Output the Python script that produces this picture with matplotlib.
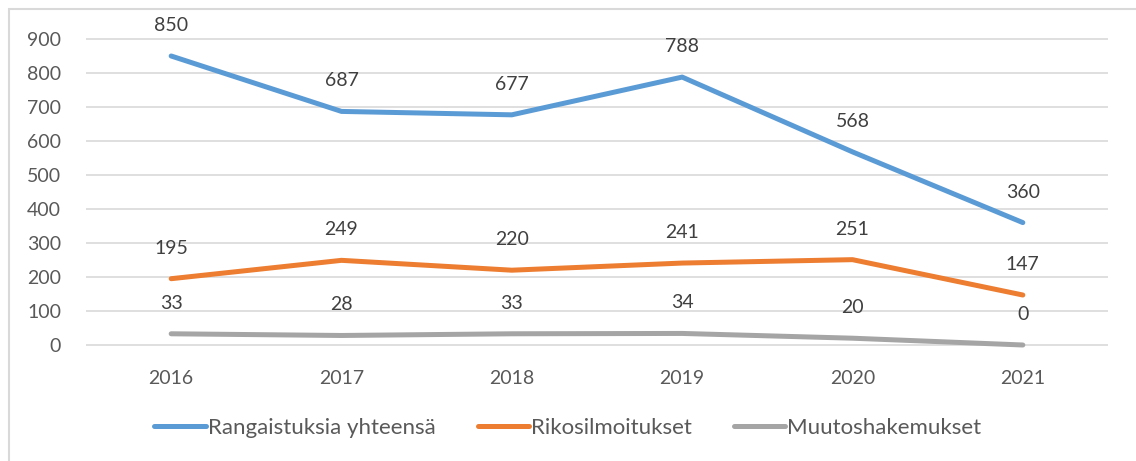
import matplotlib.pyplot as plt
from matplotlib.patches import Rectangle

years = ["2016", "2017", "2018", "2019", "2020", "2021"]
rangaistukset = [850, 687, 677, 788, 568, 360]
rikosilmoitukset = [195, 249, 220, 241, 251, 147]
muutoshakemukset = [33, 28, 33, 34, 20, 0]

series = [
    ("Rangaistuksia yhteensä", rangaistukset, "#5B9BD5"),
    ("Rikosilmoitukset", rikosilmoitukset, "#ED7D31"),
    ("Muutoshakemukset", muutoshakemukset, "#A5A5A5"),
]

plt.rcParams["font.family"] = ["Lato", "DejaVu Sans"]
text_col = "#595959"

W, H = 1136, 461
fig = plt.figure(figsize=(W / 100, H / 100), dpi=100)
ax = fig.add_axes([86 / W, 1 - 362 / H, (1108 - 86) / W, (362 - 22) / H])

x = list(range(len(years)))
for name, vals, col in series:
    ax.plot(x, vals, color=col, lw=3.6, solid_capstyle="round", label=name)
    for xi, v in zip(x, vals):
        ax.annotate(str(v), (xi, v), xytext=(0, 22), textcoords="offset points",
                    ha="center", va="center", fontsize=14, color="#404040")

ax.set_xlim(-0.5, len(years) - 0.5)
ax.set_ylim(-50, 950)
ax.set_yticks(range(0, 901, 100))
ax.set_xticks(x)
ax.set_xticklabels(years)
ax.tick_params(length=0, labelsize=14, colors=text_col)
ax.tick_params(axis="x", pad=6)
ax.tick_params(axis="y", pad=18)
ax.grid(axis="y", color="#D9D9D9", lw=1.2)
ax.set_axisbelow(True)
for s in ax.spines.values():
    s.set_visible(False)

leg = fig.legend(loc="center", bbox_to_anchor=(0.5, 1 - 428 / H), ncol=3,
                 frameon=False, fontsize=16, handlelength=2.3, handletextpad=0.1,
                 columnspacing=1.9)
for t in leg.get_texts():
    t.set_color(text_col)

fig.patches.append(Rectangle((9 / W, -0.1), 1.2, 1 - 9 / H + 0.1,
                             transform=fig.transFigure, fill=False,
                             edgecolor="#D9D9D9", lw=1.5))

fig.savefig("out.png", dpi=100)
